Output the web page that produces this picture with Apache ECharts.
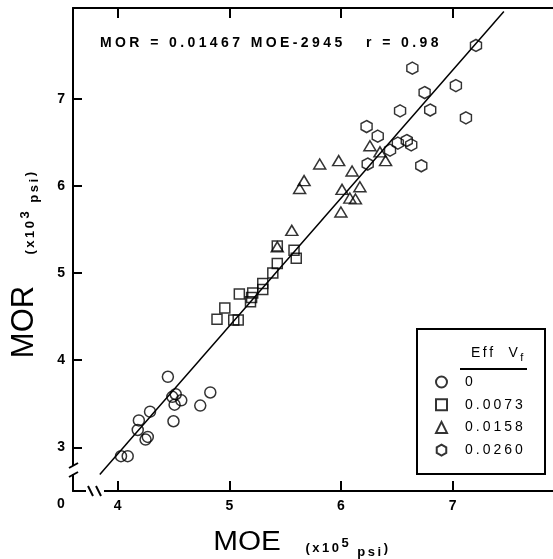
<!DOCTYPE html>
<html>
<head>
<meta charset="utf-8">
<script src="https://cdn.jsdelivr.net/npm/echarts@6/dist/echarts.min.js"></script>
<style>
html, body { margin: 0; padding: 0; background: #fff; }
#chart { width: 553px; height: 559px; }
</style>
</head>
<body>
<div id="chart"></div>
<script>
// Eff Vf groups (legend labels)
var groups = ['0', '0.0073', '0.0158', '0.0260'];

// [MOE x10^5 psi, MOR x10^3 psi]
var vf0 = [
    [4.45, 3.81], [4.52, 3.61], [4.49, 3.58], [4.57, 3.54], [4.51, 3.49],
    [4.83, 3.63], [4.74, 3.48], [4.50, 3.30], [4.29, 3.41], [4.19, 3.31],
    [4.18, 3.20], [4.27, 3.12], [4.25, 3.09], [4.03, 2.90], [4.09, 2.90]
];
var vf0073 = [
    [4.89, 4.47], [4.96, 4.60], [5.04, 4.46], [5.08, 4.46], [5.09, 4.76],
    [5.19, 4.67], [5.20, 4.72], [5.21, 4.77], [5.30, 4.88], [5.30, 4.81],
    [5.39, 5.00], [5.43, 5.11], [5.43, 5.31], [5.58, 5.26], [5.60, 5.17]
];
var vf0158 = [
    [5.81, 6.25], [5.98, 6.29], [5.67, 6.06], [5.63, 5.97], [6.10, 6.17],
    [6.01, 5.96], [6.17, 5.99], [6.08, 5.86], [6.13, 5.85], [6.00, 5.70],
    [5.56, 5.49], [5.43, 5.30], [6.26, 6.46], [6.35, 6.39], [6.40, 6.29]
];
var vf0260 = [
    [7.21, 7.61], [6.64, 7.35], [7.03, 7.15], [6.75, 7.07], [6.80, 6.87],
    [6.53, 6.86], [7.12, 6.78], [6.23, 6.68], [6.33, 6.57], [6.51, 6.49],
    [6.59, 6.52], [6.63, 6.47], [6.44, 6.41], [6.24, 6.25], [6.72, 6.23]
];

// regression line MOR = 0.01467 MOE - 2945, end points as drawn
var fitLine = [[3.84, 2.69], [7.46, 8.0]];

var xTicks = [4, 5, 6, 7];
var yTicks = [3, 4, 5, 6, 7];

var hexagon = 'path://M50,0 L93.3,25 L93.3,75 L50,100 L6.7,75 L6.7,25 Z';
var symbols = ['circle', 'rect', 'triangle', hexagon];
var sizes = [11, 10, [12, 10], [11, 12]];
var dataSets = [vf0, vf0073, vf0158, vf0260];

var chart = echarts.init(document.getElementById('chart'));

var font = 'Liberation Sans, Arial, sans-serif';
var axisLine = { show: true, lineStyle: { color: '#000', width: 2 } };

// wide letter spacing like the lettering of the original
function track(s, st) {
    st = st || 't';
    return s.split('').map(function (c) { return '{' + st + '|' + c + '}'; }).join('');
}

var series = dataSets.map(function (d, i) {
    return {
        name: groups[i],
        type: 'scatter',
        symbol: symbols[i],
        symbolSize: sizes[i],
        itemStyle: { color: 'rgba(0,0,0,0)', borderColor: '#000', borderWidth: 1.5 },
        data: d,
        z: 3
    };
});
series.push({
    name: 'fit',
    type: 'line',
    data: fitLine,
    symbol: 'none',
    lineStyle: { color: '#000', width: 1.5 },
    z: 2
});

var unitRich = {
    t: { fontSize: 13, fontWeight: 'bold', fontFamily: font, lineHeight: 22, verticalAlign: 'middle', padding: [0, 2.5, 0, 0] },
    sup: { fontSize: 13, fontWeight: 'bold', fontFamily: font, lineHeight: 22, verticalAlign: 'top', padding: [0, 2.5, 6, 0] },
    sub: { fontSize: 13, fontWeight: 'bold', fontFamily: font, lineHeight: 22, verticalAlign: 'bottom', padding: [4, 2.5, 0, 0] }
};

chart.setOption({
    animation: false,
    grid: { left: 73, right: 0, top: 8, bottom: 68 },
    xAxis: [{
        type: 'value', min: 3.6, max: 7.9, position: 'bottom',
        axisLine: axisLine,
        splitLine: { show: false },
        axisTick: { inside: true, length: 10, customValues: xTicks, lineStyle: { width: 2, color: '#000' } },
        axisLabel: { customValues: xTicks, margin: 8, color: '#000', fontSize: 14, fontWeight: 'bold', fontFamily: font }
    }, {
        type: 'value', min: 3.6, max: 7.9, position: 'top',
        axisLine: axisLine,
        splitLine: { show: false },
        axisTick: { inside: true, length: 10, customValues: xTicks, lineStyle: { width: 2, color: '#000' } },
        axisLabel: { show: false }
    }],
    yAxis: {
        type: 'value', min: 2.5, max: 8.04,
        axisLine: axisLine,
        splitLine: { show: false },
        axisTick: { inside: true, length: 9, customValues: yTicks, lineStyle: { width: 2, color: '#000' } },
        axisLabel: { customValues: yTicks, margin: 8, color: '#000', fontSize: 14, fontWeight: 'bold', fontFamily: font }
    },
    legend: {
        data: groups,
        orient: 'vertical',
        left: 430, top: 370,
        itemWidth: 11, itemHeight: 11,
        itemGap: 8.7,
        formatter: function (name) { return track(name); },
        textStyle: {
            color: '#000', padding: [0, 0, 0, 13],
            rich: { t: { fontSize: 14, fontFamily: font, color: '#000', lineHeight: 15, padding: [0, 3, 0, 0] } }
        }
    },
    series: series,
    graphic: [
        // break marks on the axes
        { type: 'rect', shape: { x: 86, y: 487, width: 18, height: 8 }, style: { fill: '#fff' }, z: 100 },
        { type: 'line', shape: { x1: 88, y1: 486, x2: 93, y2: 496 }, style: { stroke: '#000', lineWidth: 2 }, z: 101 },
        { type: 'line', shape: { x1: 96, y1: 486, x2: 101, y2: 496 }, style: { stroke: '#000', lineWidth: 2 }, z: 101 },
        { type: 'rect', shape: { x: 69, y: 466, width: 8, height: 8 }, style: { fill: '#fff' }, z: 100 },
        { type: 'line', shape: { x1: 69, y1: 468, x2: 78, y2: 463 }, style: { stroke: '#000', lineWidth: 2 }, z: 101 },
        { type: 'line', shape: { x1: 69, y1: 477, x2: 78, y2: 472 }, style: { stroke: '#000', lineWidth: 2 }, z: 101 },
        { type: 'text', x: 61, y: 504, style: { text: '0', fill: '#000', font: 'bold 14px ' + font, align: 'center', verticalAlign: 'middle' } },

        // equation and r
        {
            type: 'text', x: 100, y: 43,
            style: {
                text: track('MOR = 0.01467 MOE-2945'), fill: '#000', verticalAlign: 'middle',
                rich: { t: { fontSize: 14, fontWeight: 'bold', fontFamily: font, padding: [0, 3.4, 0, 0] } }
            }
        },
        {
            type: 'text', x: 366, y: 43,
            style: {
                text: track('r = 0.98'), fill: '#000', verticalAlign: 'middle',
                rich: { t: { fontSize: 14, fontWeight: 'bold', fontFamily: font, padding: [0, 3.4, 0, 0] } }
            }
        },

        // axis names
        { type: 'text', x: 24, y: 322, rotation: Math.PI / 2, style: { text: 'MOR', fill: '#000', font: '31px ' + font, align: 'center', verticalAlign: 'middle' } },
        {
            type: 'text', x: 30, y: 212, rotation: Math.PI / 2,
            style: {
                text: track('(x10') + '{sup|3}{t| }' + track('psi', 'sub') + '{t|)}',
                fill: '#000', align: 'center', verticalAlign: 'middle', rich: unitRich
            }
        },
        { type: 'text', x: 247, y: 543, scaleX: 1.1, style: { text: 'MOE', fill: '#000', font: '27px ' + font, align: 'center', verticalAlign: 'middle' } },
        {
            type: 'text', x: 348, y: 548,
            style: {
                text: track('(x10') + '{sup|5}{t| }' + track('psi', 'sub') + '{t|)}',
                fill: '#000', align: 'center', verticalAlign: 'middle', rich: unitRich
            }
        },

        // legend box
        { type: 'rect', shape: { x: 417, y: 329, width: 128, height: 145 }, style: { fill: 'rgba(0,0,0,0)', stroke: '#000', lineWidth: 2 }, z: 50 },
        {
            type: 'text', x: 471, y: 353,
            style: {
                text: track('Eff  V') + '{sub|f}', fill: '#000', verticalAlign: 'middle',
                rich: {
                    t: { fontSize: 14, fontFamily: font, lineHeight: 20, verticalAlign: 'middle', padding: [0, 2.5, 0, 0] },
                    sub: { fontSize: 11, fontFamily: font, lineHeight: 20, verticalAlign: 'bottom', padding: [6, 0, 0, 0] }
                }
            }
        },
        { type: 'line', shape: { x1: 460, y1: 369, x2: 527, y2: 369 }, style: { stroke: '#000', lineWidth: 2 } }
    ]
});
</script>
</body>
</html>
